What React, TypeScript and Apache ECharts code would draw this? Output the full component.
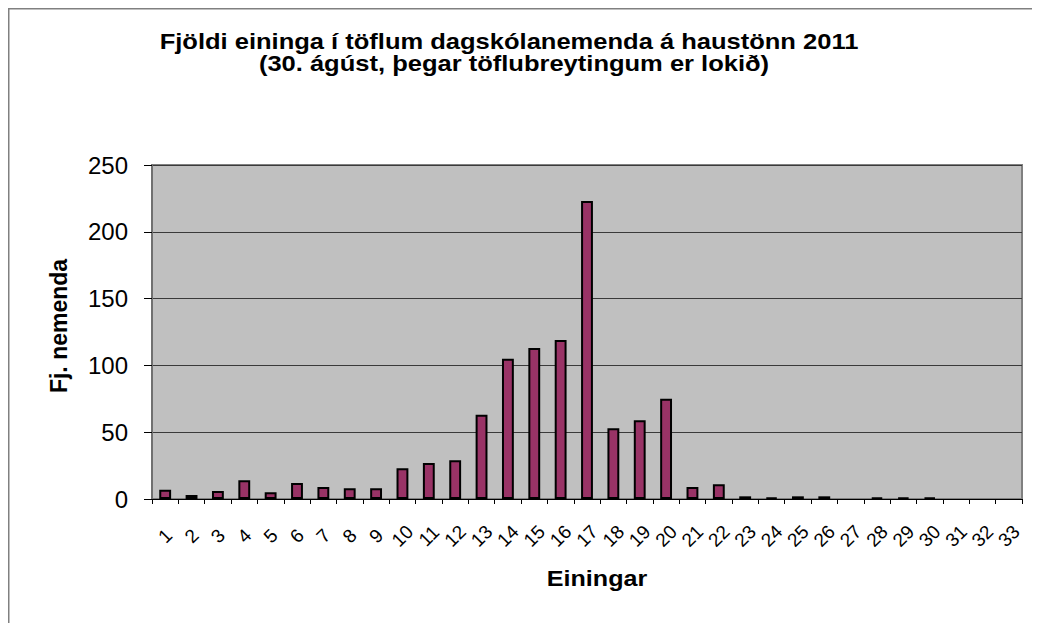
import React, { useEffect, useRef } from "react";
import * as echarts from "echarts";

const categories = [
  "1", "2", "3", "4", "5", "6", "7", "8", "9", "10", "11", "12", "13", "14", "15", "16", "17",
  "18", "19", "20", "21", "22", "23", "24", "25", "26", "27", "28", "29", "30", "31", "32", "33",
];
const students = [
  7, 3, 6, 14, 5, 12, 9, 8, 8, 23, 27, 29, 63, 105, 113, 119, 223,
  53, 59, 75, 9, 11, 2, 1, 2, 2, 0, 1, 1, 1, 0, 0, 0,
];
const yTicks = { min: 0, max: 250, interval: 50 };
const titleLine1 = "Fjöldi eininga í töflum dagskólanemenda á haustönn 2011";
const titleLine2 = "(30. ágúst, þegar töflubreytingum er lokið)";
const xName = "Einingar";
const yName = "Fj. nemenda";

const FONT = "'Liberation Sans', Arial, sans-serif";

export default function App() {
  const ref = useRef<HTMLDivElement>(null);
  useEffect(() => {
    if (!ref.current) return;
    const chart = echarts.init(ref.current, undefined, { renderer: "svg" });
    chart.setOption({
      animation: false,
      backgroundColor: "#ffffff",
      grid: {
        left: 144,
        top: 157,
        right: 18,
        bottom: 124,
        show: true,
        backgroundColor: "#C0C0C0",
        borderColor: "#808080",
        borderWidth: 2,
      },
      xAxis: {
        type: "category",
        data: categories,
        boundaryGap: true,
        axisLine: { show: true, lineStyle: { color: "#000", width: 1 } },
        axisTick: { show: true, length: 5, lineStyle: { color: "#000" } },
        axisLabel: {
          rotate: 45,
          interval: 0,
          margin: 37,
          align: "center",
          verticalAlign: "middle",
          fontSize: 19,
          fontFamily: FONT,
          color: "#000",
        },
        splitLine: { show: false },
      },
      yAxis: {
        type: "value",
        min: yTicks.min,
        max: yTicks.max,
        interval: yTicks.interval,
        axisLine: { show: true, lineStyle: { color: "#707070", width: 2 } },
        axisTick: { show: true, length: 8, lineStyle: { color: "#000" } },
        axisLabel: {
          margin: 24,
          fontSize: 24,
          fontFamily: FONT,
          color: "#000",
        },
        splitLine: { show: true, lineStyle: { color: "#3a3a3a", width: 1 } },
      },
      series: [
        {
          type: "bar",
          data: students.map((v) =>
            v === 0 ? { value: v, itemStyle: { borderWidth: 0 } } : v
          ),
          barWidth: "45%",
          itemStyle: {
            color: "#993366",
            borderColor: "#000000",
            borderWidth: 2,
          },
        },
      ],
      graphic: [
        {
          type: "rect",
          silent: true,
          z: -10,
          shape: { x: 0.75, y: 0.75, width: 3000, height: 3000 },
          style: { fill: "none", stroke: "#808080", lineWidth: 1.5 },
        },
        {
          type: "text",
          x: 501,
          y: 33,
          scaleX: 1.16,
          style: {
            text: titleLine1,
            font: `bold 22px ${FONT}`,
            fill: "#000",
            align: "center",
            verticalAlign: "middle",
          },
        },
        {
          type: "text",
          x: 506,
          y: 55,
          scaleX: 1.16,
          style: {
            text: titleLine2,
            font: `bold 22px ${FONT}`,
            fill: "#000",
            align: "center",
            verticalAlign: "middle",
          },
        },
        {
          type: "text",
          x: 589,
          y: 571,
          scaleX: 1.14,
          style: {
            text: xName,
            font: `bold 22px ${FONT}`,
            fill: "#000",
            align: "center",
            verticalAlign: "middle",
          },
        },
        {
          type: "text",
          x: 51,
          y: 318,
          rotation: Math.PI / 2,
          style: {
            text: yName,
            font: `bold 23px ${FONT}`,
            fill: "#000",
            align: "center",
            verticalAlign: "middle",
          },
        },
      ],
    });
    return () => chart.dispose();
  }, []);
  return <div ref={ref} style={{ width: 1032, height: 615 }} />;
}
